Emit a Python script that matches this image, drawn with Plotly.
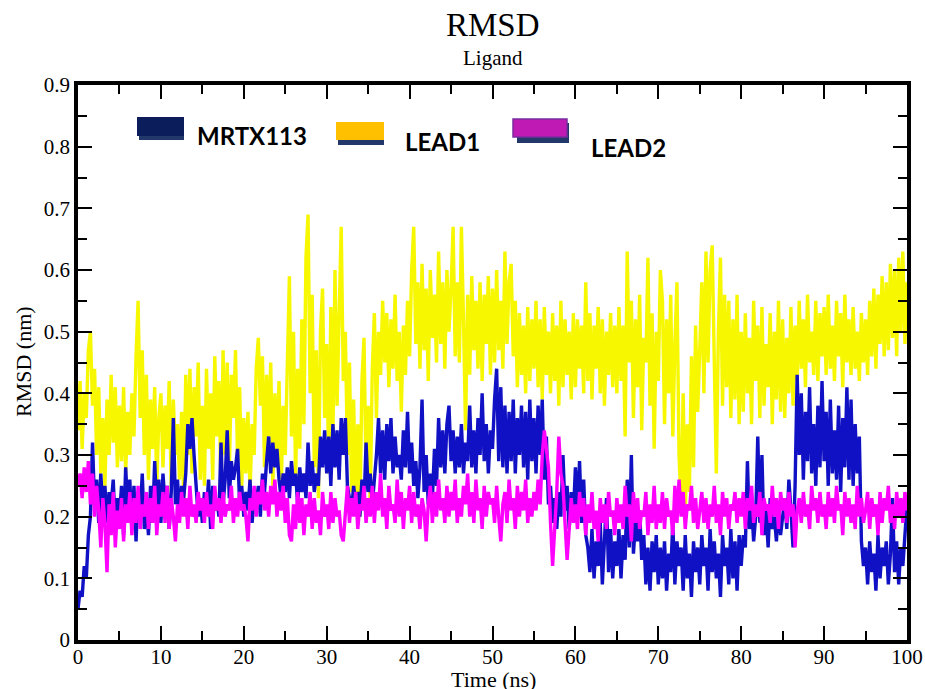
import plotly.graph_objects as go

# ---------------- data ----------------
TIME_STEP_NS = 0.25  # sampling interval of the arrays below

# LEAD1 (yellow) RMSD in nm, one value every 0.25 ns from 0 to 100 ns
lead1 = [
    0.34,0.42,0.31,0.40,0.36,0.47,0.50,0.38,0.44,0.30,0.41,0.27,0.36,0.25,0.39,0.30,0.43,0.32,0.41,0.28,
    0.38,0.29,0.41,0.27,0.37,0.30,0.40,0.33,0.46,0.55,0.36,0.47,0.30,0.43,0.26,0.39,0.31,0.41,0.25,0.36,
    0.40,0.28,0.38,0.31,0.42,0.24,0.39,0.30,0.35,0.26,0.37,0.23,0.43,0.30,0.44,0.27,0.41,0.33,0.45,0.26,
    0.38,0.25,0.44,0.31,0.40,0.26,0.46,0.33,0.42,0.24,0.47,0.30,0.45,0.27,0.43,0.36,0.47,0.29,0.41,0.25,
    0.36,0.27,0.37,0.24,0.35,0.30,0.44,0.49,0.38,0.46,0.28,0.43,0.33,0.45,0.25,0.40,0.30,0.42,0.24,0.38,
    0.30,0.45,0.59,0.33,0.50,0.26,0.44,0.31,0.52,0.35,0.62,0.69,0.40,0.56,0.28,0.47,0.23,0.50,0.57,0.36,
    0.48,0.27,0.54,0.33,0.60,0.38,0.55,0.67,0.42,0.50,0.30,0.45,0.24,0.39,0.21,0.35,0.20,0.42,0.49,0.26,
    0.38,0.22,0.44,0.53,0.36,0.50,0.43,0.55,0.45,0.53,0.41,0.52,0.44,0.56,0.42,0.50,0.37,0.51,0.43,0.55,
    0.46,0.60,0.67,0.48,0.58,0.44,0.61,0.47,0.57,0.42,0.60,0.49,0.56,0.45,0.63,0.48,0.58,0.44,0.60,0.50,
    0.57,0.67,0.46,0.58,0.45,0.67,0.52,0.34,0.56,0.43,0.59,0.47,0.55,0.44,0.58,0.42,0.56,0.48,0.59,0.43,
    0.57,0.45,0.60,0.47,0.55,0.44,0.63,0.48,0.58,0.61,0.46,0.55,0.41,0.53,0.43,0.51,0.40,0.54,0.42,0.52,
    0.44,0.55,0.41,0.52,0.39,0.54,0.43,0.50,0.40,0.53,0.42,0.51,0.38,0.55,0.41,0.52,0.43,0.50,0.39,0.53,
    0.41,0.52,0.44,0.51,0.40,0.58,0.42,0.53,0.39,0.51,0.44,0.54,0.40,0.52,0.38,0.50,0.43,0.53,0.41,0.51,
    0.40,0.54,0.42,0.51,0.33,0.63,0.45,0.55,0.36,0.52,0.41,0.56,0.34,0.49,0.45,0.62,0.38,0.53,0.31,0.50,
    0.42,0.60,0.55,0.35,0.52,0.40,0.56,0.33,0.48,0.58,0.30,0.22,0.40,0.20,0.35,0.24,0.46,0.28,0.51,0.37,
    0.47,0.58,0.40,0.63,0.45,0.60,0.64,0.42,0.27,0.50,0.62,0.38,0.56,0.41,0.55,0.36,0.52,0.39,0.56,0.35,
    0.50,0.37,0.53,0.40,0.49,0.35,0.55,0.42,0.51,0.36,0.54,0.38,0.48,0.41,0.53,0.35,0.50,0.39,0.55,0.37,
    0.52,0.36,0.49,0.40,0.54,0.38,0.51,0.42,0.55,0.44,0.52,0.41,0.56,0.45,0.50,0.43,0.55,0.42,0.53,0.46,
    0.54,0.43,0.56,0.44,0.51,0.42,0.55,0.46,0.53,0.41,0.56,0.45,0.52,0.43,0.54,0.44,0.50,0.42,0.53,0.45,
    0.52,0.43,0.55,0.46,0.57,0.44,0.56,0.48,0.59,0.46,0.58,0.47,0.61,0.49,0.60,0.46,0.62,0.50,0.63,0.48,
    0.58,
]

# MRTX113 (blue)
mrtx113 = [
    0.05,0.08,0.07,0.12,0.10,0.17,0.20,0.32,0.22,0.26,0.19,0.27,0.21,0.25,0.19,0.24,0.22,0.26,0.18,0.23,
    0.20,0.25,0.17,0.28,0.21,0.26,0.18,0.25,0.16,0.24,0.20,0.27,0.18,0.22,0.17,0.25,0.19,0.29,0.21,0.26,
    0.19,0.27,0.22,0.25,0.18,0.24,0.36,0.22,0.26,0.20,0.25,0.23,0.27,0.35,0.31,0.36,0.30,0.24,0.20,0.23,
    0.19,0.24,0.21,0.26,0.18,0.25,0.21,0.23,0.20,0.32,0.22,0.26,0.34,0.23,0.29,0.26,0.28,0.31,0.22,0.25,
    0.20,0.24,0.21,0.26,0.19,0.23,0.22,0.25,0.20,0.27,0.24,0.29,0.33,0.27,0.32,0.28,0.31,0.26,0.23,0.27,
    0.24,0.28,0.23,0.29,0.25,0.27,0.22,0.28,0.24,0.27,0.23,0.32,0.25,0.29,0.24,0.27,0.25,0.33,0.28,0.34,
    0.27,0.33,0.25,0.35,0.28,0.34,0.26,0.36,0.30,0.36,0.25,0.23,0.21,0.25,0.22,0.24,0.20,0.26,0.22,0.32,
    0.24,0.27,0.22,0.26,0.30,0.36,0.27,0.34,0.26,0.35,0.29,0.36,0.27,0.33,0.28,0.30,0.26,0.34,0.28,0.37,
    0.27,0.32,0.25,0.29,0.23,0.28,0.39,0.24,0.30,0.22,0.27,0.23,0.31,0.25,0.36,0.28,0.34,0.27,0.35,0.38,
    0.29,0.34,0.27,0.33,0.28,0.35,0.27,0.32,0.29,0.38,0.28,0.34,0.27,0.36,0.30,0.40,0.29,0.35,0.27,0.34,
    0.31,0.39,0.44,0.29,0.41,0.28,0.38,0.27,0.37,0.29,0.39,0.27,0.36,0.30,0.38,0.28,0.37,0.26,0.39,0.29,
    0.36,0.27,0.38,0.30,0.39,0.26,0.33,0.22,0.25,0.19,0.23,0.18,0.24,0.20,0.30,0.21,0.25,0.18,0.24,0.20,
    0.28,0.21,0.29,0.19,0.26,0.17,0.15,0.11,0.18,0.10,0.16,0.12,0.19,0.09,0.17,0.23,0.11,0.18,0.10,0.16,
    0.12,0.18,0.10,0.17,0.13,0.26,0.15,0.30,0.14,0.19,0.16,0.21,0.13,0.17,0.09,0.15,0.08,0.16,0.11,0.17,
    0.09,0.15,0.10,0.16,0.08,0.14,0.11,0.19,0.09,0.16,0.12,0.15,0.08,0.17,0.10,0.14,0.07,0.16,0.11,0.15,
    0.09,0.17,0.12,0.15,0.08,0.18,0.11,0.16,0.10,0.14,0.07,0.17,0.12,0.15,0.09,0.18,0.10,0.16,0.08,0.17,
    0.12,0.17,0.15,0.29,0.18,0.22,0.16,0.20,0.33,0.19,0.30,0.17,0.21,0.15,0.23,0.18,0.20,0.16,0.22,0.17,
    0.20,0.23,0.18,0.26,0.21,0.15,0.25,0.43,0.30,0.40,0.26,0.37,0.29,0.41,0.27,0.35,0.25,0.38,0.28,0.42,
    0.29,0.37,0.25,0.39,0.27,0.34,0.26,0.38,0.24,0.36,0.28,0.41,0.26,0.39,0.25,0.35,0.27,0.33,0.16,0.12,
    0.15,0.09,0.16,0.11,0.14,0.08,0.17,0.10,0.15,0.12,0.16,0.09,0.14,0.23,0.11,0.16,0.09,0.15,0.12,0.17,
    0.22,
]

# LEAD2 (magenta)
lead2 = [
    0.25,0.27,0.23,0.28,0.24,0.29,0.22,0.27,0.20,0.25,0.21,0.15,0.23,0.19,0.11,0.22,0.17,0.24,0.15,0.21,
    0.18,0.23,0.16,0.22,0.19,0.24,0.17,0.23,0.19,0.25,0.18,0.22,0.20,0.24,0.18,0.23,0.19,0.25,0.17,0.22,
    0.20,0.24,0.19,0.25,0.18,0.23,0.20,0.16,0.22,0.19,0.24,0.20,0.23,0.18,0.25,0.20,0.22,0.19,0.24,0.21,
    0.23,0.19,0.24,0.20,0.22,0.18,0.25,0.21,0.23,0.19,0.24,0.20,0.22,0.21,0.25,0.19,0.23,0.20,0.24,0.21,
    0.22,0.20,0.16,0.23,0.21,0.25,0.20,0.24,0.22,0.26,0.21,0.24,0.20,0.25,0.22,0.26,0.20,0.24,0.21,0.25,
    0.19,0.23,0.17,0.16,0.22,0.18,0.24,0.19,0.23,0.17,0.22,0.20,0.24,0.18,0.23,0.19,0.21,0.17,0.24,0.20,
    0.22,0.18,0.24,0.19,0.23,0.20,0.21,0.17,0.16,0.21,0.25,0.19,0.23,0.20,0.24,0.18,0.22,0.21,0.25,0.19,
    0.23,0.20,0.25,0.19,0.24,0.21,0.27,0.20,0.23,0.18,0.25,0.21,0.22,0.19,0.26,0.20,0.24,0.18,0.23,0.21,
    0.25,0.19,0.24,0.20,0.22,0.18,0.23,0.21,0.16,0.22,0.25,0.19,0.24,0.20,0.26,0.21,0.23,0.19,0.25,0.20,
    0.24,0.21,0.26,0.19,0.23,0.20,0.25,0.22,0.27,0.20,0.24,0.19,0.26,0.21,0.23,0.18,0.25,0.20,0.24,0.22,
    0.23,0.19,0.25,0.20,0.16,0.22,0.24,0.19,0.26,0.21,0.23,0.18,0.25,0.20,0.24,0.21,0.26,0.19,0.23,0.20,
    0.24,0.21,0.26,0.22,0.30,0.34,0.31,0.28,0.19,0.12,0.18,0.24,0.33,0.27,0.25,0.20,0.13,0.18,0.23,0.19,
    0.22,0.18,0.24,0.20,0.23,0.17,0.22,0.19,0.24,0.18,0.21,0.16,0.23,0.19,0.22,0.18,0.24,0.20,0.21,0.17,
    0.23,0.19,0.22,0.18,0.25,0.20,0.22,0.16,0.24,0.19,0.23,0.18,0.21,0.20,0.24,0.17,0.22,0.19,0.25,0.18,
    0.22,0.19,0.24,0.18,0.23,0.20,0.21,0.17,0.25,0.19,0.26,0.20,0.24,0.18,0.22,0.21,0.25,0.19,0.23,0.18,
    0.21,0.24,0.19,0.23,0.18,0.22,0.20,0.25,0.19,0.22,0.17,0.24,0.20,0.23,0.18,0.22,0.21,0.24,0.19,0.23,
    0.20,0.24,0.18,0.23,0.21,0.25,0.19,0.22,0.20,0.24,0.17,0.23,0.21,0.22,0.19,0.25,0.20,0.23,0.18,0.24,
    0.21,0.23,0.19,0.24,0.20,0.22,0.15,0.21,0.23,0.19,0.24,0.20,0.22,0.18,0.25,0.21,0.23,0.19,0.24,0.20,
    0.22,0.18,0.24,0.20,0.23,0.19,0.25,0.21,0.22,0.17,0.24,0.20,0.23,0.19,0.22,0.18,0.25,0.20,0.23,0.19,
    0.21,0.24,0.18,0.23,0.20,0.22,0.17,0.24,0.19,0.23,0.21,0.25,0.19,0.22,0.18,0.24,0.20,0.23,0.19,0.24,
    0.21,
]

series_names = ["MRTX113", "LEAD1", "LEAD2"]
x_tick_vals = [0, 10, 20, 30, 40, 50, 60, 70, 80, 90, 100]
x_tick_text = ["0", "10", "20", "30", "40", "50", "60", "70", "80", "90", "100"]
y_tick_vals = [0, 0.1, 0.2, 0.3, 0.4, 0.5, 0.6, 0.7, 0.8, 0.9]
y_tick_text = ["0", "0.1", "0.2", "0.3", "0.4", "0.5", "0.6", "0.7", "0.8", "0.9"]


def times_for(values):
    return [round(i * TIME_STEP_NS, 2) for i in range(len(values))]


# ---------------- figure ----------------
W, H = 925, 689
L, R, T, B = 78, 18, 85, 49
PW, PH = W - L - R, H - T - B


def px(xp):
    return (xp - L) / PW


def py(yp):
    return (H - B - yp) / PH


SERIF = "Liberation Serif, Times New Roman, serif"
SANS = "Lato, Open Sans, sans-serif"

fig = go.Figure()
# drawing order: yellow first, then blue, magenta on top
fig.add_trace(go.Scatter(x=times_for(lead1), y=lead1, mode="lines", name=series_names[1],
                         line=dict(color="#F7F700", width=3.4), showlegend=False))
fig.add_trace(go.Scatter(x=times_for(mrtx113), y=mrtx113, mode="lines", name=series_names[0],
                         line=dict(color="#1010C4", width=3.4), showlegend=False))
fig.add_trace(go.Scatter(x=times_for(lead2), y=lead2, mode="lines", name=series_names[2],
                         line=dict(color="#FF00FF", width=3.4), showlegend=False))

axis_common = dict(
    showline=True, linecolor="black", linewidth=3.5, mirror="allticks",
    ticks="inside", ticklen=14, tickwidth=2, tickcolor="black",
    showgrid=False, zeroline=False, automargin=False,
    tickfont=dict(family=SERIF, size=21, color="black"),
)
fig.update_xaxes(range=[0, 100], tickvals=x_tick_vals, ticktext=x_tick_text,
                 minor=dict(ticks="inside", ticklen=9, tickwidth=2, tickcolor="black", dtick=5, showgrid=False),
                 ticklabelstandoff=-5, **axis_common)
fig.update_yaxes(range=[0, 0.9], tickvals=y_tick_vals, ticktext=y_tick_text,
                 minor=dict(ticks="inside", ticklen=9, tickwidth=2, tickcolor="black", dtick=0.05, showgrid=False),
                 ticklabelstandoff=0, **axis_common)

annotations = [
    dict(text="RMSD", x=px(493), y=py(25), xref="paper", yref="paper", showarrow=False,
         xanchor="center", yanchor="middle", font=dict(family=SERIF, size=33, color="black")),
    dict(text="Ligand", x=px(493), y=py(58), xref="paper", yref="paper", showarrow=False,
         xanchor="center", yanchor="middle", font=dict(family=SERIF, size=21, color="black")),
    dict(text="Time (ns)", x=px(493), y=py(679), xref="paper", yref="paper", showarrow=False,
         xanchor="center", yanchor="middle", font=dict(family=SERIF, size=22, color="black")),
    dict(text="RMSD (nm)", x=px(23), y=py(362), xref="paper", yref="paper", showarrow=False,
         textangle=-90, xanchor="center", yanchor="middle", font=dict(family=SERIF, size=22, color="black")),
    dict(text="<b>" + series_names[0] + "</b>", x=px(195), y=py(136), xref="paper", yref="paper",
         showarrow=False, xanchor="left", yanchor="middle", font=dict(family=SANS, size=24, color="black")),
    dict(text="<b>" + series_names[1] + "</b>", x=px(403), y=py(142), xref="paper", yref="paper",
         showarrow=False, xanchor="left", yanchor="middle", font=dict(family=SANS, size=24, color="black")),
    dict(text="<b>" + series_names[2] + "</b>", x=px(589), y=py(147), xref="paper", yref="paper",
         showarrow=False, xanchor="left", yanchor="middle", font=dict(family=SANS, size=24, color="black")),
]


def rect(x0, y0, x1, y1, fill, line_color=None, lw=0):
    return dict(type="rect", xref="paper", yref="paper", x0=px(x0), x1=px(x1), y0=py(y1), y1=py(y0),
                fillcolor=fill, line=dict(color=line_color or fill, width=lw), layer="above")


shapes = [
    # MRTX113 swatch
    rect(139, 134, 184, 140, "#22386B"),
    rect(137, 117, 184, 136, "#0B1E5B"),
    # LEAD1 swatch
    rect(338, 138, 384, 145, "#22386B"),
    rect(336, 122, 384, 140, "#FFC000"),
    # LEAD2 swatch
    rect(517, 123, 569, 143, "#22386B"),
    rect(513, 119, 567, 137, "#C01AB5", "#7A2DA0", 1.5),
]

fig.update_layout(
    width=W, height=H,
    margin=dict(l=L, r=R, t=T, b=B, pad=0),
    paper_bgcolor="white", plot_bgcolor="white",
    annotations=annotations, shapes=shapes,
    showlegend=False,
)

fig.write_html("out.html", config={"displayModeBar": False},
               post_script="document.body.style.margin='0px';")
